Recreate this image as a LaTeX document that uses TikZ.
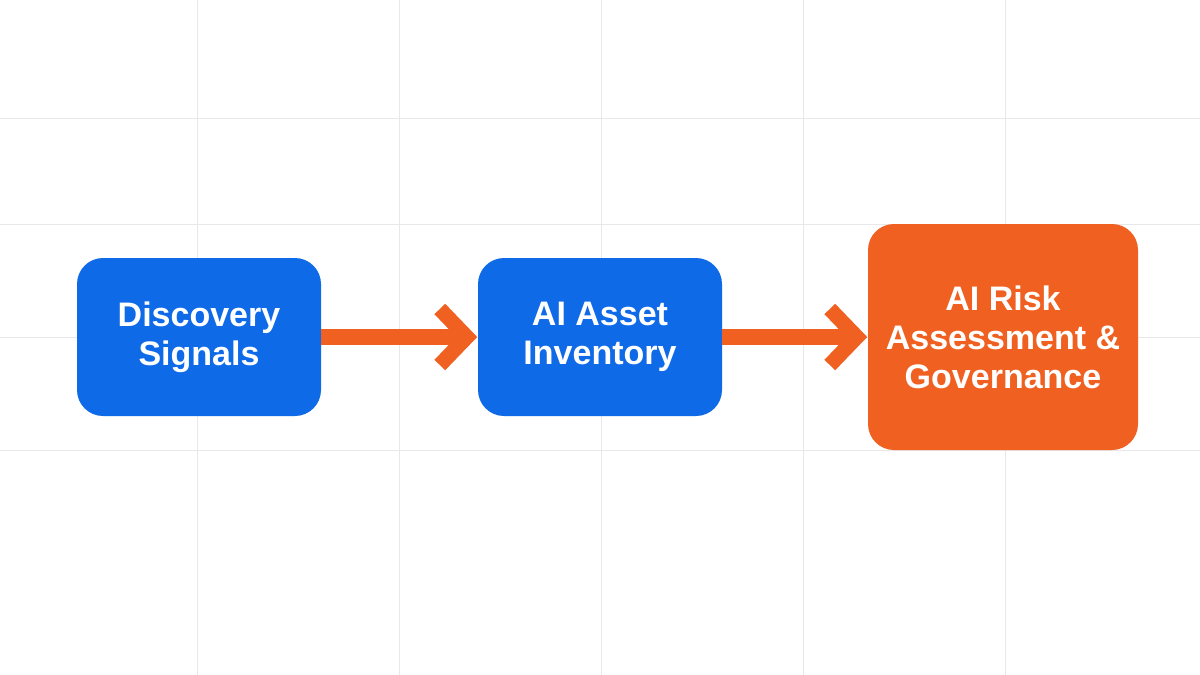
\documentclass[tikz,border=0pt]{standalone}
\usepackage{fontspec}
\setmainfont{Liberation Sans}
\definecolor{bblue}{RGB}{15,106,232}
\definecolor{borange}{RGB}{239,96,33}
\definecolor{gridgray}{RGB}{232,232,234}
\begin{document}
\begin{tikzpicture}[x=1pt,y=-1pt,
  box/.style={rounded corners=26pt, text=white, align=center, inner sep=0pt,
    font=\bfseries\fontsize{34}{39}\selectfont},
  bluebox/.style={box, fill=bblue, minimum width=244pt, minimum height=158pt},
  orangebox/.style={box, fill=borange, minimum width=270pt, minimum height=226pt},
  gridline/.style={draw=gridgray, line width=1pt},
  shaft/.style={draw=borange, line width=16pt},
  chev/.style={draw=borange, line width=15pt, line join=miter, line cap=butt}]
\useasboundingbox (0,0) rectangle (1200,675);
\fill[white] (0,0) rectangle (1200,675);
\foreach \x in {197,399,601,803,1005} \draw[gridline] (\x,0) -- (\x,675);
\foreach \y in {118,224,337,450} \draw[gridline] (0,\y) -- (1200,\y);

\node[bluebox] (disc) at (199,337) {Discovery\\Signals};
\node[bluebox] (inv) at (600,337) {AI Asset\\Inventory};
\node[orangebox] (risk) at (1003,337) {AI Risk\\Assessment \&\\Governance};

\draw[shaft] (disc.east) -- ([xshift=-12pt]inv.west);
\draw[chev] ([shift={(-38,-28)}]inv.west) -- ([xshift=-11pt]inv.west) -- ([shift={(-38,28)}]inv.west);
\draw[shaft] (inv.east) -- ([xshift=-12pt]risk.west);
\draw[chev] ([shift={(-38,-28)}]risk.west) -- ([xshift=-11pt]risk.west) -- ([shift={(-38,28)}]risk.west);
\end{tikzpicture}
\end{document}
